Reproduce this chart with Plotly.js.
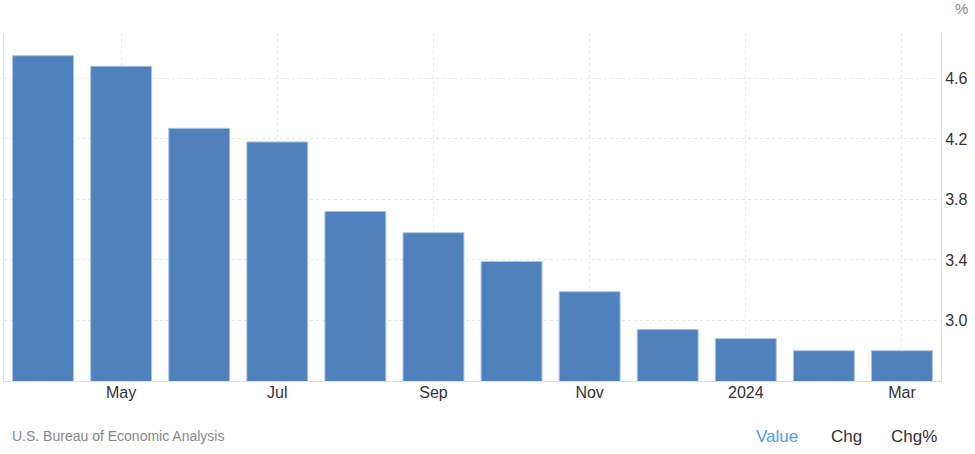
<!DOCTYPE html>
<html>
<head>
<meta charset="utf-8">
<script src="https://cdn.plot.ly/plotly-3.0.1.min.js"></script>
<style>html,body{margin:0;padding:0;background:#fff;}#chart{width:975px;height:454px;}</style>
</head>
<body>
<div id="chart"></div>
<script>
const months = ["Apr 2023","May 2023","Jun 2023","Jul 2023","Aug 2023","Sep 2023","Oct 2023","Nov 2023","Dec 2023","Jan 2024","Feb 2024","Mar 2024"];
const values = [4.75, 4.68, 4.27, 4.18, 3.72, 3.58, 3.39, 3.19, 2.94, 2.88, 2.80, 2.80];
const xTickVals = ["May 2023","Jul 2023","Sep 2023","Nov 2023","Jan 2024","Mar 2024"];
const xTickText = ["May","Jul","Sep","Nov","2024","Mar"];
const yTickVals = [3.0, 3.4, 3.8, 4.2, 4.6, 4.9];
const yTickText = ["3.0","3.4","3.8","4.2","4.6",""];
const sourceText = "U.S. Bureau of Economic Analysis";
const unitText = "%";

const font = "Arial, 'Liberation Sans', sans-serif";

const trace = {
  type: "bar",
  x: months,
  y: values,
  marker: {color: "#4f81bd", line: {color: "#a8c3e6", width: 1}},
  hoverinfo: "x+y"
};

const layout = {
  width: 975, height: 454,
  margin: {l: 4, r: 34, t: 33, b: 73},
  paper_bgcolor: "#fff", plot_bgcolor: "#fff",
  bargap: 0.22,
  showlegend: false,
  font: {family: font, color: "#333"},
  xaxis: {
    type: "category",
    tickvals: xTickVals, ticktext: xTickText,
    showgrid: true, gridcolor: "#e8e8e8", griddash: "dot", gridwidth: 1,
    showline: true, linecolor: "#e0e0e0", linewidth: 1,
    ticks: "", ticklabelstandoff: -3, tickfont: {size: 16, color: "#333", family: font},
    range: [-0.5, 11.5], fixedrange: true
  },
  yaxis: {
    side: "right",
    range: [2.6, 4.9],
    tickvals: yTickVals, ticktext: yTickText,
    showgrid: true, gridcolor: "#e8e8e8", griddash: "dot", gridwidth: 1,
    showline: true, mirror: true, linecolor: "#e0e0e0", linewidth: 1,
    zeroline: false,
    ticks: "", tickfont: {size: 16, color: "#333", family: font},
    fixedrange: true
  },
  annotations: [
    {text: unitText, xref: "paper", yref: "paper", x: 1.0, xanchor: "left", xshift: 12, y: 1, yanchor: "bottom", yshift: 14, showarrow: false, font: {size: 15, color: "#888", family: font}},
    {text: sourceText, xref: "paper", yref: "paper", x: 0, xanchor: "left", xshift: 6, y: 0, yanchor: "middle", yshift: -55, showarrow: false, font: {size: 14, color: "#888", family: font}},
    {text: "Value", xref: "paper", yref: "paper", x: 0, xanchor: "left", xshift: 750, y: 0, yanchor: "middle", yshift: -55, showarrow: false, font: {size: 17, color: "#4a9df8", family: font}},
    {text: "Chg", xref: "paper", yref: "paper", x: 0, xanchor: "left", xshift: 825, y: 0, yanchor: "middle", yshift: -55, showarrow: false, font: {size: 17, color: "#333", family: font}},
    {text: "Chg%", xref: "paper", yref: "paper", x: 0, xanchor: "left", xshift: 885, y: 0, yanchor: "middle", yshift: -55, showarrow: false, font: {size: 17, color: "#333", family: font}}
  ]
};

Plotly.newPlot("chart", [trace], layout, {displayModeBar: false, staticPlot: true});
</script>
</body>
</html>
